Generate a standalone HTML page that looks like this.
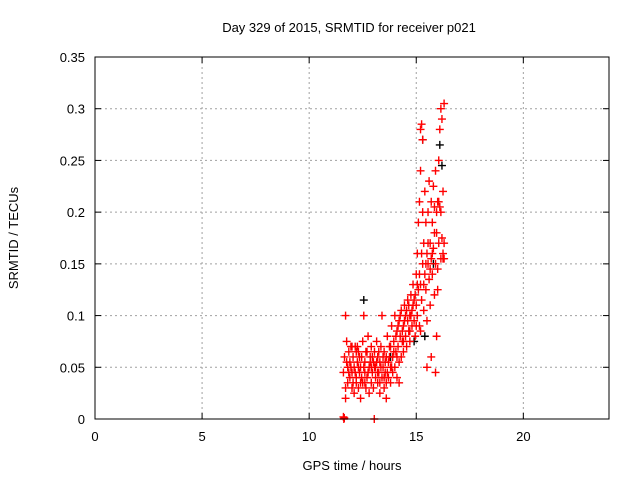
<!DOCTYPE html>
<html><head><meta charset="utf-8"><style>
html,body{margin:0;padding:0;background:#fff}
svg{display:block;font-family:"Liberation Sans",sans-serif}
</style></head><body>
<svg id="chart" width="640" height="480">
<text x="349" y="32" font-size="13" text-anchor="middle">Day 329 of 2015, SRMTID for receiver p021</text>
<text x="352" y="470" font-size="13" text-anchor="middle">GPS time / hours</text>
<text x="18" y="238" font-size="13" text-anchor="middle" transform="rotate(-90 18 238)">SRMTID / TECUs</text>
<g id="grid"></g>
<g id="ticks"></g>
<g id="marks"></g>
<rect x="95" y="57" width="514" height="362" fill="none" stroke="#000" stroke-width="1"/>
</svg>
<script>
const xTicks=[0,5,10,15,20];
const yTicks=[0,0.05,0.1,0.15,0.2,0.25,0.3,0.35];
const yTickLabels=["0","0.05","0.1","0.15","0.2","0.25","0.3","0.35"];
const redHours=[11.6,11.65,11.7,11.7,11.75,11.8,11.8,11.85,11.9,11.9,11.95,12.0,12.0,12.05,12.1,12.1,12.15,12.2,12.2,12.25,12.3,12.3,12.35,12.4,12.4,12.45,12.5,12.5,12.55,12.6,12.6,12.65,12.7,12.7,12.75,12.8,12.8,12.85,12.9,12.9,12.95,13.0,13.0,13.05,13.1,13.1,13.15,13.2,13.2,13.25,13.3,13.3,13.35,13.4,13.4,13.45,13.5,13.5,13.55,13.6,13.6,13.65,13.7,13.7,13.75,13.8,13.8,13.85,13.9,13.9,13.95,14.0,14.0,14.05,14.1,14.1,14.15,14.2,14.2,14.25,14.3,14.3,14.35,14.4,14.4,14.45,14.5,14.5,14.55,14.6,14.6,14.65,14.7,14.7,14.75,14.8,14.8,14.85,14.9,14.9,14.95,15.0,15.0,15.05,15.05,15.1,15.1,15.15,15.15,15.2,15.2,15.2,15.25,15.25,15.3,15.3,15.3,15.35,15.35,15.4,15.4,15.45,15.45,15.5,15.5,15.55,15.55,15.6,15.6,15.65,15.65,15.7,15.7,15.75,15.75,15.8,15.8,15.85,15.85,15.9,15.9,15.95,15.95,16.0,16.0,16.05,16.05,16.1,16.1,16.15,16.15,16.2,16.2,16.25,16.25,16.3,16.3,16.3,15.9,15.7,15.5,15.2,16.0,14.2,12.2,11.62,13.04,
11.75,11.85,11.95,12.05,12.15,12.25,12.35,12.45,12.55,12.65,12.75,12.85,12.95,13.05,13.15,13.25,13.35,13.45,13.55,13.65,13.75,13.85,13.95,14.05,14.15,14.25,14.35,14.45,14.55,14.65,14.75,14.85,14.95,15.05,15.15,15.25,15.35,15.45,15.55,15.65,15.75,15.85,15.95,16.05,16.15,16.25,11.7,12.0,12.3,12.6,12.9,13.2,13.5,13.8,14.1,14.4,14.7,15.0,12.4,13.6,13.3,11.6,11.64];
const redValues=[0.045,0.06,0.1,0.03,0.075,0.05,0.035,0.065,0.04,0.055,0.07,0.03,0.045,0.06,0.025,0.05,0.07,0.035,0.04,0.055,0.03,0.065,0.045,0.02,0.05,0.06,0.035,0.075,0.1,0.045,0.055,0.03,0.065,0.04,0.08,0.05,0.025,0.06,0.035,0.07,0.045,0.055,0.03,0.065,0.04,0.05,0.075,0.035,0.06,0.045,0.025,0.055,0.07,0.04,0.1,0.05,0.03,0.065,0.045,0.02,0.06,0.08,0.04,0.055,0.07,0.035,0.05,0.09,0.06,0.045,0.075,0.05,0.1,0.065,0.04,0.085,0.07,0.055,0.095,0.08,0.06,0.105,0.075,0.09,0.065,0.11,0.08,0.1,0.07,0.095,0.115,0.085,0.1,0.075,0.12,0.09,0.105,0.13,0.095,0.115,0.08,0.11,0.14,0.1,0.16,0.125,0.19,0.09,0.21,0.13,0.28,0.24,0.115,0.285,0.15,0.27,0.2,0.105,0.17,0.22,0.14,0.125,0.19,0.16,0.095,0.15,0.2,0.135,0.23,0.17,0.11,0.155,0.21,0.14,0.19,0.165,0.225,0.12,0.205,0.15,0.24,0.18,0.08,0.21,0.145,0.25,0.17,0.205,0.28,0.3,0.155,0.29,0.175,0.155,0.22,0.305,0.17,0.155,0.045,0.06,0.05,0.085,0.125,0.035,0.065,0.0,0.0,
0.055,0.045,0.05,0.035,0.045,0.07,0.06,0.04,0.05,0.065,0.045,0.055,0.06,0.05,0.055,0.065,0.05,0.06,0.055,0.045,0.06,0.05,0.065,0.08,0.09,0.1,0.085,0.095,0.105,0.11,0.1,0.11,0.12,0.13,0.14,0.16,0.13,0.15,0.17,0.145,0.16,0.18,0.2,0.21,0.2,0.16,0.02,0.07,0.05,0.035,0.05,0.045,0.04,0.07,0.06,0.075,0.085,0.09,0.035,0.035,0.035,0.002,0.001];
const blackHours=[12.55,15.3,16.1,15.8,16.2,14.9,13.8,15.4];
const blackValues=[0.115,0.27,0.265,0.15,0.245,0.075,0.06,0.08];

const NS="http://www.w3.org/2000/svg";
const X0=95,X1=609,Y0=419,Y1=57,XMAX=24,YMAX=0.35;
const sx=h=>X0+(X1-X0)*h/XMAX;
const sy=v=>Y0-(Y0-Y1)*v/YMAX;
function mk(tag,attrs,parent){const e=document.createElementNS(NS,tag);for(const k in attrs)e.setAttribute(k,attrs[k]);parent.appendChild(e);return e;}
const grid=document.getElementById('grid'),ticks=document.getElementById('ticks'),marks=document.getElementById('marks');
xTicks.forEach(t=>{
  const x=sx(t);
  if(t>0){const g=mk('line',{x1:x,x2:x,y1:Y1,y2:Y0,stroke:'#a0a0a0','stroke-dasharray':'2,3'},grid);
  
  }
  const l=mk('text',{x:x,y:Y0+22,'font-size':13,'text-anchor':'middle'},ticks);l.textContent=t;
  
  
  mk('line',{x1:x,x2:x,y1:Y0,y2:Y0-6,stroke:'#000'},ticks);
  mk('line',{x1:x,x2:x,y1:Y1,y2:Y1+6,stroke:'#000'},ticks);
});
yTicks.forEach((t,i)=>{
  const y=sy(t);
  if(t>0&&t<YMAX){const g=mk('line',{x1:X0,x2:X1,y1:y,y2:y,stroke:'#a0a0a0','stroke-dasharray':'2,3'},grid);
  
  }
  const l=mk('text',{x:X0-10,y:y+5,'font-size':13,'text-anchor':'end'},ticks);l.textContent=yTickLabels[i];
  
  
  mk('line',{x1:X0,x2:X0+6,y1:y,y2:y,stroke:'#000'},ticks);
  mk('line',{x1:X1,x2:X1-6,y1:y,y2:y,stroke:'#000'},ticks);
});
function plus(h,v,color,name){
  const x=sx(h),y=sy(v);
  const p=mk('path',{d:`M${x-4} ${y}H${x+4}M${x} ${y-4}V${y+4}`,stroke:color,'stroke-width':1.4,fill:'none'},marks);
  
  
}
blackHours.forEach((h,i)=>plus(h,blackValues[i],'#000','black-point'));
redHours.forEach((h,i)=>plus(h,redValues[i],'#f00','red-point'));
</script>
</body></html>
